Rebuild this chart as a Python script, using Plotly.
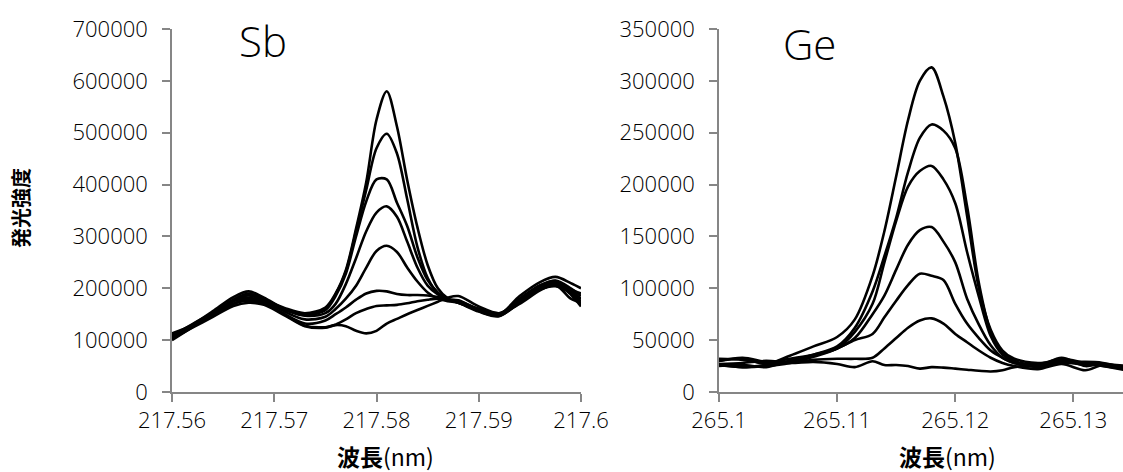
import plotly.graph_objects as go

W, H = 1123, 472

# ---------------- Sb data (intensity in thousands) ----------------
sb_x = [217.560, 217.562, 217.564, 217.566, 217.5675, 217.569, 217.571, 217.573,
        217.575, 217.576, 217.577, 217.578, 217.579, 217.580, 217.581, 217.582,
        217.583, 217.584, 217.585, 217.586, 217.587, 217.588,
        217.590, 217.592, 217.594, 217.596, 217.5975, 217.599, 217.600]
sb_1 = [106, 128, 152, 178, 190, 178, 162, 152, 163, 190, 235, 315, 405, 525, 580, 512,
        409, 318, 245, 200, 180, 172, 158, 148, 178, 205, 215, 200, 185]
sb_2 = [102, 126, 150, 176, 186, 175, 160, 150, 160, 188, 232, 310, 390, 470, 498, 460,
        372, 280, 220, 190, 178, 174, 156, 147, 172, 200, 210, 195, 180]
sb_3 = [110, 130, 156, 183, 194, 182, 160, 148, 158, 185, 228, 300, 368, 410, 410, 365,
        320, 260, 216, 192, 178, 173, 160, 150, 185, 212, 222, 210, 200]
sb_4 = [104, 127, 148, 170, 180, 173, 158, 147, 152, 170, 208, 258, 310, 346, 358, 338,
        290, 240, 205, 188, 178, 172, 155, 146, 174, 198, 206, 192, 175]
sb_5 = [100, 125, 150, 177, 188, 178, 155, 140, 145, 160, 180, 205, 240, 272, 282, 270,
        240, 213, 192, 180, 175, 172, 157, 149, 180, 206, 214, 198, 190]
sb_6 = [113, 129, 150, 170, 176, 170, 150, 132, 138, 150, 163, 178, 190, 195, 194, 189,
        187, 187, 186, 183, 178, 176, 160, 152, 176, 198, 204, 190, 170]
sb_7 = [103, 124, 145, 166, 172, 168, 148, 127, 124, 130, 140, 152, 160, 166, 167, 168,
        171, 175, 178, 180, 178, 177, 158, 150, 175, 203, 210, 188, 165]
sb_8 = [108, 131, 153, 175, 182, 172, 150, 128, 125, 129, 127, 118, 113, 118, 132, 141,
        150, 158, 166, 174, 182, 185, 165, 152, 170, 196, 206, 180, 172]
sb_series = [sb_1, sb_2, sb_3, sb_4, sb_5, sb_6, sb_7, sb_8]
sb_tickvals = [217.56, 217.57, 217.58, 217.59, 217.60]
sb_ticktext = ["217.56", "217.57", "217.58", "217.59", "217.6"]

# ---------------- Ge data (intensity in thousands) ----------------
ge_x = [265.100, 265.102, 265.104, 265.106, 265.108, 265.110, 265.1115, 265.113,
        265.114, 265.115, 265.116, 265.117, 265.118, 265.119, 265.120, 265.121,
        265.122, 265.123, 265.124, 265.125, 265.127, 265.129, 265.131, 265.1325, 265.1345]
ge_1 = [30, 32, 27, 35, 44, 53, 70, 112, 155, 208, 262, 300, 313, 285, 240, 170,
        100, 60, 40, 32, 28, 30, 27, 26, 22]
ge_2 = [25, 26, 24, 30, 36, 44, 62, 97, 131, 168, 212, 245, 258, 252, 235, 179,
        105, 58, 38, 30, 27, 32, 28, 25, 21]
ge_3 = [26, 24, 25, 28, 34, 42, 58, 85, 125, 165, 198, 213, 218, 205, 182, 135,
        92, 54, 36, 29, 26, 29, 26, 27, 25]
ge_4 = [32, 31, 28, 32, 36, 42, 52, 75, 93, 118, 142, 156, 159, 145, 125, 90,
        65, 45, 33, 28, 24, 28, 29, 28, 23]
ge_5 = [26, 24, 26, 30, 35, 42, 50, 56, 72, 88, 103, 114, 112, 108, 85, 66,
        52, 40, 33, 28, 25, 33, 25, 27, 21]
ge_6 = [30, 33, 29, 28, 31, 32, 32, 33, 42, 52, 62, 69, 71, 66, 56, 48,
        40, 33, 28, 25, 22, 27, 21, 26, 24]
ge_7 = [27, 28, 30, 28, 29, 27, 24, 29.6, 26, 26, 25, 22.5, 24, 23.5, 22.5, 21.5,
        20.5, 19.8, 21, 24, 26, 29, 27, 25, 22]
ge_series = [ge_1, ge_2, ge_3, ge_4, ge_5, ge_6, ge_7]
ge_tickvals = [265.10, 265.11, 265.12, 265.13]
ge_ticktext = ["265.1", "265.11", "265.12", "265.13"]

AXIS_GRAY = "#868686"
TICK_FONT = dict(family="Open Sans", size=22, color="black", weight=300)

fig = go.Figure()
for s in sb_series:
    fig.add_trace(go.Scatter(x=sb_x, y=[v * 1000 for v in s], mode="lines",
                             line=dict(color="black", width=2.6, shape="spline", smoothing=0.9),
                             xaxis="x", yaxis="y", showlegend=False, hoverinfo="skip"))
for s in ge_series:
    fig.add_trace(go.Scatter(x=ge_x, y=[v * 1000 for v in s], mode="lines",
                             line=dict(color="black", width=2.6, shape="spline", smoothing=0.9),
                             xaxis="x2", yaxis="y2", showlegend=False, hoverinfo="skip"))

ydom = [1 - 392 / H, 1 - 29 / H]
common_x = dict(showline=True, linecolor=AXIS_GRAY, linewidth=1.5, ticks="outside",
                ticklen=8, tickcolor=AXIS_GRAY, tickwidth=1.5, showgrid=False,
                zeroline=False, tickfont=TICK_FONT, tickmode="array", automargin=False)
common_y = dict(showline=True, linecolor=AXIS_GRAY, linewidth=1.5, ticks="outside",
                ticklen=8, tickcolor=AXIS_GRAY, tickwidth=1.5, showgrid=False,
                zeroline=False, tickfont=TICK_FONT, tickformat="d", tick0=0,
                domain=ydom, automargin=False, ticklabelstandoff=10)

fig.update_layout(
    width=W, height=H, margin=dict(l=0, r=0, t=0, b=0, autoexpand=False),
    paper_bgcolor="white", plot_bgcolor="white",
    xaxis=dict(domain=[172 / W, 581 / W], range=[217.56, 217.60], anchor="y",
               tickvals=sb_tickvals, ticktext=sb_ticktext, **common_x),
    yaxis=dict(range=[0, 700000], dtick=100000, anchor="x", **common_y),
    xaxis2=dict(domain=[719 / W, 1.0], range=[265.10, 265.1342], anchor="y2",
                tickvals=ge_tickvals, ticktext=ge_ticktext, **common_x),
    yaxis2=dict(range=[0, 350000], dtick=50000, anchor="x2", **common_y),
)

ann_font_title = dict(family="Open Sans", size=42, color="black", weight=300)
cjk = "Noto Sans CJK JP"
fig.add_annotation(text="Sb", x=263 / W, y=1 - 40 / H, xref="paper", yref="paper",
                   showarrow=False, font=ann_font_title, xanchor="center", yanchor="middle")
fig.add_annotation(text="Ge", x=809 / W, y=1 - 44 / H, xref="paper", yref="paper",
                   showarrow=False, font=ann_font_title, xanchor="center", yanchor="middle")
fig.add_annotation(text="<b>発光強度</b>", x=21 / W, y=1 - 208 / H, xref="paper", yref="paper",
                   showarrow=False, textangle=-90, xanchor="center", yanchor="middle",
                   font=dict(family=cjk, size=20, color="black"))
for cx in (385, 947):
    fig.add_annotation(text="<b>波長</b>(nm)", x=cx / W, y=1 - 456 / H, xref="paper", yref="paper",
                       showarrow=False, xanchor="center", yanchor="middle",
                       font=dict(family=cjk, size=23, color="black"))

fig.write_html("out.html")
